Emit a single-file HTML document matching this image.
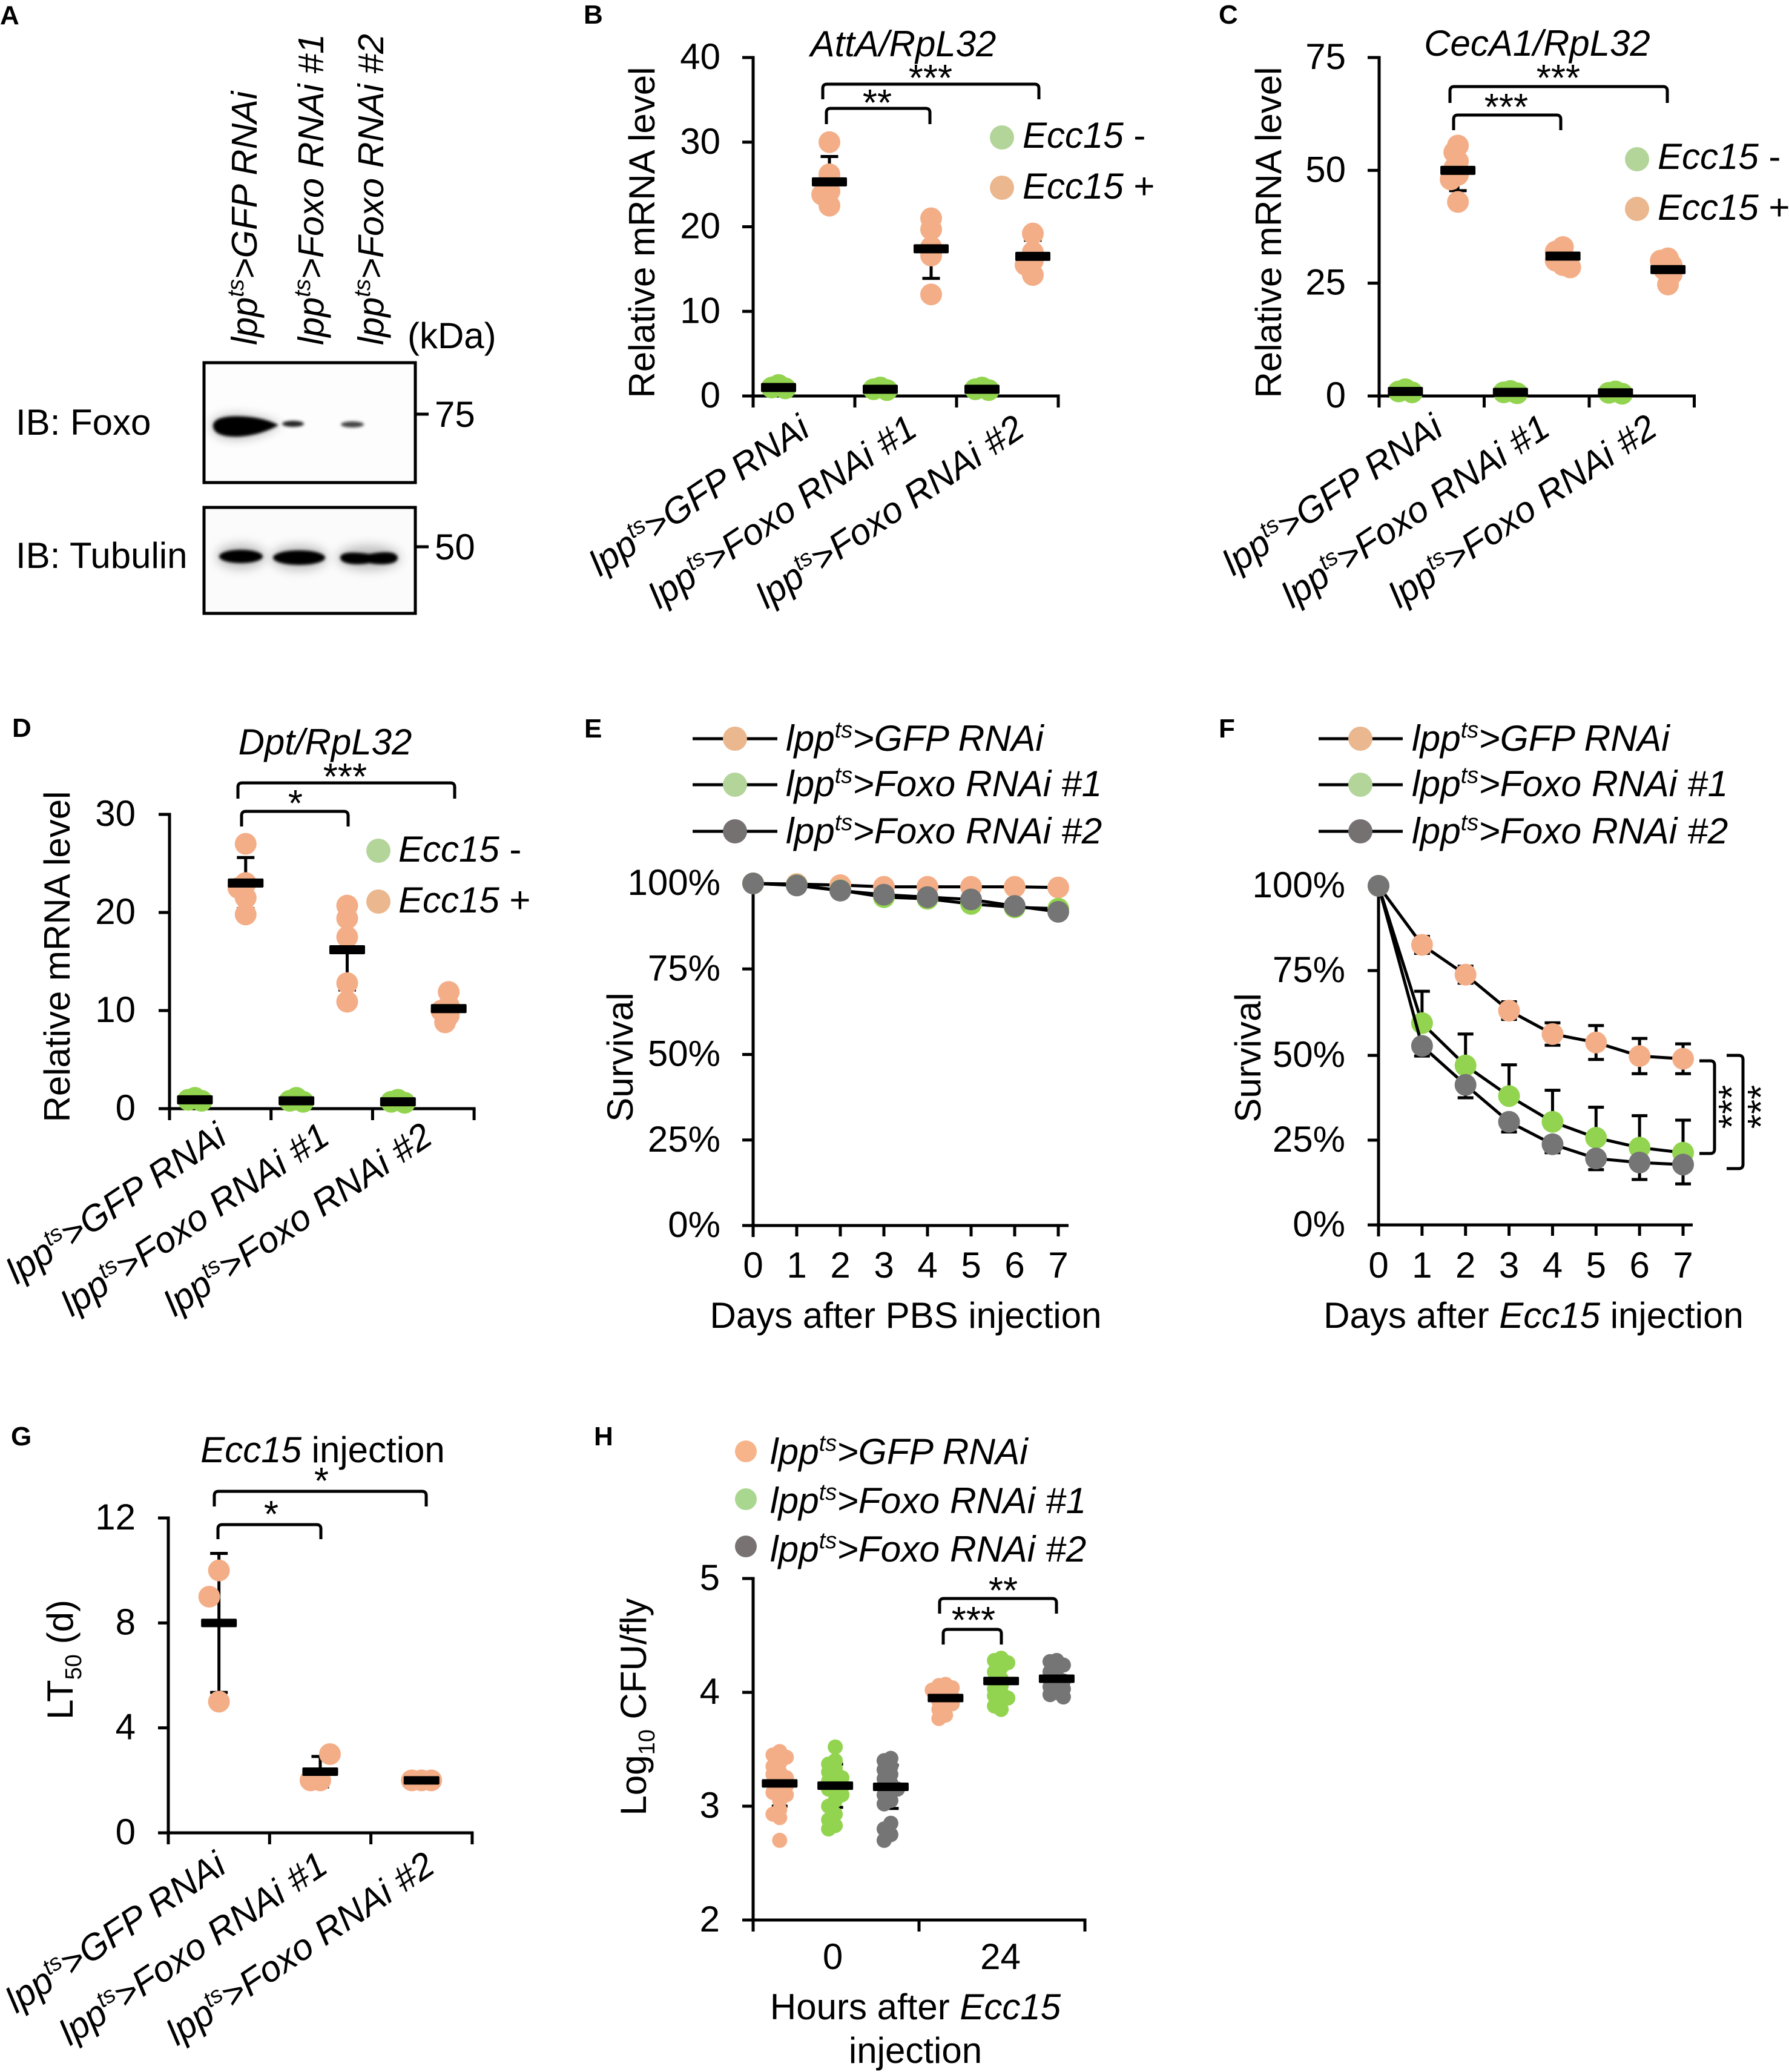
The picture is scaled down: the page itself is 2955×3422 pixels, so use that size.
<!DOCTYPE html>
<html lang="en">
<head>
<meta charset="utf-8">
<title>Foxo RNAi immune response figure</title>
<style>
html,body{margin:0;padding:0;background:#fff;}
svg{display:block;font-family:"Liberation Sans",Arial,sans-serif;fill:#000;}
.pl{font-weight:bold;font-size:44px;}
.t{font-size:60px;}
.i{font-style:italic;}
</style>
</head>
<body>
<svg id="figure" xmlns="http://www.w3.org/2000/svg" width="2955" height="3422" viewBox="0 0 2955 3422">
<defs>
<filter id="b2" x="-30%" y="-80%" width="160%" height="260%"><feGaussianBlur stdDeviation="2.5"/></filter>
<filter id="b8" x="-40%" y="-150%" width="180%" height="400%"><feGaussianBlur stdDeviation="9"/></filter>
</defs>
<rect width="2955" height="3422" fill="#fff"/>

<!-- Panel labels -->
<text class="pl" x="0" y="40">A</text>
<text class="pl" x="964" y="39">B</text>
<text class="pl" x="2013" y="39">C</text>
<text class="pl" x="20" y="1217">D</text>
<text class="pl" x="965" y="1218">E</text>
<text class="pl" x="2013" y="1218">F</text>
<text class="pl" x="18" y="2387">G</text>
<text class="pl" x="981" y="2387">H</text>

<!-- Panel A -->
<g id="panel-a">
  <text class="t i" transform="translate(424,570) rotate(-90)" style="font-size:59.5px">lpp<tspan dy="-22" font-size="38">ts</tspan><tspan dy="22">&gt;GFP RNAi</tspan></text>
  <text class="t i" transform="translate(534,570) rotate(-90)" style="font-size:59.5px">lpp<tspan dy="-22" font-size="38">ts</tspan><tspan dy="22">&gt;Foxo RNAi #1</tspan></text>
  <text class="t i" transform="translate(633,570) rotate(-90)" style="font-size:59.5px">lpp<tspan dy="-22" font-size="38">ts</tspan><tspan dy="22">&gt;Foxo RNAi #2</tspan></text>
  <text class="t" x="673" y="575">(kDa)</text>
  <text class="t" x="26" y="718">IB: Foxo</text>
  <text class="t" x="26" y="938">IB: Tubulin</text>
  <g>
    <rect x="337" y="599" width="349" height="198" fill="#fdfdfd"/>
    <path d="M350 703C350 688 380 682 415 688C440 692 455 698 462 702C450 710 425 722 395 724C365 725 350 716 350 703Z" fill="#000" opacity=".3" filter="url(#b8)"/>
    <path d="M352 703C352 689 380 685 415 689C438 692 452 698 460 702C448 709 425 719 395 721C366 722 352 715 352 703Z" fill="#000" filter="url(#b2)"/>
    <ellipse cx="484" cy="700" rx="18" ry="5" fill="#222" filter="url(#b2)"/>
    <ellipse cx="582" cy="701" rx="19" ry="5" fill="#444" filter="url(#b2)"/>
    <rect x="337" y="599" width="349" height="198" fill="none" stroke="#000" stroke-width="5"/>
  </g>
  <g>
    <rect x="337" y="838" width="349" height="175" fill="#fbfbfb"/>
    <ellipse cx="398" cy="919" rx="40" ry="20" fill="#000" opacity=".25" filter="url(#b8)"/>
    <ellipse cx="494" cy="921" rx="46" ry="20" fill="#000" opacity=".25" filter="url(#b8)"/>
    <ellipse cx="609" cy="921" rx="52" ry="20" fill="#000" opacity=".25" filter="url(#b8)"/>
    <ellipse cx="398" cy="919" rx="36" ry="11" fill="#000" filter="url(#b2)"/>
    <ellipse cx="494" cy="921" rx="43" ry="12" fill="#000" filter="url(#b2)"/>
    <path d="M562 921C562 910 590 912 610 915C625 912 655 908 657 921C657 934 625 933 610 930C590 934 562 932 562 921Z" fill="#000" filter="url(#b2)"/>
    <rect x="337" y="838" width="349" height="175" fill="none" stroke="#000" stroke-width="5"/>
  </g>
  <line x1="686" x2="708" y1="684" y2="684" stroke="#000" stroke-width="5"/>
  <line x1="686" x2="708" y1="903" y2="903" stroke="#000" stroke-width="5"/>
  <text class="t" x="718" y="705">75</text>
  <text class="t" x="718" y="924">50</text>
</g>

<!-- Titles and axis titles -->
<text class="t i" x="1492" y="93" text-anchor="middle">AttA/RpL32</text>
<text class="t" transform="translate(1081,384) rotate(-90)" text-anchor="middle">Relative mRNA level</text>
<text class="t i" x="2539" y="92" text-anchor="middle">CecA1/RpL32</text>
<text class="t" transform="translate(2116,384) rotate(-90)" text-anchor="middle">Relative mRNA level</text>
<text class="t i" x="537" y="1246" text-anchor="middle">Dpt/RpL32</text>
<text class="t" transform="translate(115,1580) rotate(-90)" text-anchor="middle">Relative mRNA level</text>
<text class="t" transform="translate(1045,1746) rotate(-90)" text-anchor="middle">Survival</text>
<text class="t" x="1496" y="2193" text-anchor="middle">Days after PBS injection</text>
<text class="t" transform="translate(2082,1747) rotate(-90)" text-anchor="middle">Survival</text>
<text class="t" x="2533" y="2193" text-anchor="middle">Days after <tspan class="i">Ecc15</tspan> injection</text>
<text class="t" x="533" y="2415" text-anchor="middle"><tspan class="i">Ecc15</tspan> injection</text>
<text class="t" transform="translate(120,2741) rotate(-90)" text-anchor="middle">LT<tspan dy="14" font-size="38">50</tspan><tspan dy="-14"> (d)</tspan></text>
<text class="t" transform="translate(1067,2819) rotate(-90)" text-anchor="middle">Log<tspan dy="14" font-size="38">10</tspan><tspan dy="-14"> CFU/fly</tspan></text>
<text class="t" x="1512" y="3335" text-anchor="middle">Hours after <tspan class="i">Ecc15</tspan></text>
<text class="t" x="1512" y="3407" text-anchor="middle">injection</text>

<!-- Legends B, C, D -->
<g>
  <circle cx="1655" cy="227" r="20" fill="#b3d59a"/><text class="t" x="1689" y="244"><tspan class="i">Ecc15</tspan> -</text>
  <circle cx="1655" cy="310" r="20" fill="#ebb78e"/><text class="t" x="1689" y="328"><tspan class="i">Ecc15</tspan> +</text>
</g>
<g>
  <circle cx="2704" cy="263" r="20" fill="#b3d59a"/><text class="t" x="2738" y="279"><tspan class="i">Ecc15</tspan> -</text>
  <circle cx="2704" cy="345" r="20" fill="#ebb78e"/><text class="t" x="2738" y="363"><tspan class="i">Ecc15</tspan> +</text>
</g>
<g>
  <circle cx="625" cy="1405" r="20" fill="#b3d59a"/><text class="t" x="658" y="1423"><tspan class="i">Ecc15</tspan> -</text>
  <circle cx="625" cy="1489" r="20" fill="#ebb78e"/><text class="t" x="658" y="1507"><tspan class="i">Ecc15</tspan> +</text>
</g>

<!-- Legends E, F -->
<g stroke-width="0">
  <line x1="1144" x2="1284" y1="1220" y2="1220" stroke="#000" stroke-width="5"/><circle cx="1214" cy="1220" r="20" fill="#ebb78e"/>
  <text class="t i" x="1298" y="1240" style="font-size:60.5px">lpp<tspan dy="-22" font-size="38">ts</tspan><tspan dy="22">&gt;GFP RNAi</tspan></text>
  <line x1="1144" x2="1284" y1="1296" y2="1296" stroke="#000" stroke-width="5"/><circle cx="1214" cy="1296" r="20" fill="#b3d59a"/>
  <text class="t i" x="1298" y="1315" style="font-size:60.5px">lpp<tspan dy="-22" font-size="38">ts</tspan><tspan dy="22">&gt;Foxo RNAi #1</tspan></text>
  <line x1="1144" x2="1284" y1="1373" y2="1373" stroke="#000" stroke-width="5"/><circle cx="1214" cy="1373" r="20" fill="#767171"/>
  <text class="t i" x="1298" y="1393" style="font-size:60.5px">lpp<tspan dy="-22" font-size="38">ts</tspan><tspan dy="22">&gt;Foxo RNAi #2</tspan></text>
</g>
<g>
  <line x1="2178" x2="2317" y1="1220" y2="1220" stroke="#000" stroke-width="5"/><circle cx="2247" cy="1220" r="20" fill="#ebb78e"/>
  <text class="t i" x="2332" y="1240" style="font-size:60.5px">lpp<tspan dy="-22" font-size="38">ts</tspan><tspan dy="22">&gt;GFP RNAi</tspan></text>
  <line x1="2178" x2="2317" y1="1296" y2="1296" stroke="#000" stroke-width="5"/><circle cx="2247" cy="1296" r="20" fill="#b3d59a"/>
  <text class="t i" x="2332" y="1315" style="font-size:60.5px">lpp<tspan dy="-22" font-size="38">ts</tspan><tspan dy="22">&gt;Foxo RNAi #1</tspan></text>
  <line x1="2178" x2="2317" y1="1373" y2="1373" stroke="#000" stroke-width="5"/><circle cx="2247" cy="1373" r="20" fill="#767171"/>
  <text class="t i" x="2332" y="1393" style="font-size:60.5px">lpp<tspan dy="-22" font-size="38">ts</tspan><tspan dy="22">&gt;Foxo RNAi #2</tspan></text>
</g>
<!-- Legend H -->
<g>
  <circle cx="1232" cy="2397" r="18" fill="#f7b48a"/>
  <text class="t i" x="1272" y="2418" style="font-size:60.5px">lpp<tspan dy="-22" font-size="38">ts</tspan><tspan dy="22">&gt;GFP RNAi</tspan></text>
  <circle cx="1232" cy="2476" r="18" fill="#aad78f"/>
  <text class="t i" x="1272" y="2499" style="font-size:60.5px">lpp<tspan dy="-22" font-size="38">ts</tspan><tspan dy="22">&gt;Foxo RNAi #1</tspan></text>
  <circle cx="1232" cy="2554" r="18" fill="#787272"/>
  <text class="t i" x="1272" y="2579" style="font-size:60.5px">lpp<tspan dy="-22" font-size="38">ts</tspan><tspan dy="22">&gt;Foxo RNAi #2</tspan></text>
</g>
<g id="charts"></g>
</svg>

<script>
const categories = ['GFP RNAi', 'Foxo RNAi #1', 'Foxo RNAi #2'];

// Panel B
const bTicks = [0, 10, 20, 30, 40];
const bMinus = [[1.3, 1.0, 0.9], [1.0, 0.8, 0.7], [1.0, 0.8, 0.7]];
const bMinusMeans = [1.0, 0.8, 0.8];
const bPlus = [[30, 26.2, 24.2, 23.8, 22.5], [21, 19.7, 17.6, 16.6, 12], [19.2, 17, 16, 15.5, 14.3]];
const bPlusMeans = [25.3, 17.4, 16.5];
const bPlusErr = [3, 3.5, 1.9];

// Panel C
const cTicks = [0, 25, 50, 75];
const cMinus = [[1.5, 1.0, 0.8], [1.1, 0.8, 0.6], [1.0, 0.7, 0.5]];
const cMinusMeans = [1, 0.8, 0.7];
const cPlus = [[55.5, 54, 52, 50.5, 49, 48, 43], [33, 32, 31, 30, 29, 28.5], [30.5, 30, 29, 28, 27, 24.7]];
const cPlusMeans = [50, 31, 28];
const cPlusErr = [4.5, 1.5, 1.9];

// Panel D
const dTicks = [0, 10, 20, 30];
const dMinus = [[1.1, 0.9, 0.8], [1.1, 0.8, 0.7], [0.9, 0.7, 0.6]];
const dMinusMeans = [0.9, 0.8, 0.7];
const dPlus = [[27, 23, 22.5, 21.5, 19.8], [20.7, 19.4, 17.5, 12.8, 10.9], [11.9, 10.5, 10, 9.5, 8.8]];
const dPlusMeans = [23, 16.2, 10.2];
const dPlusErr = [2.6, 4.1, 1.2];

// Panels E and F
const days = [0, 1, 2, 3, 4, 5, 6, 7];
const survivalTicks = [0, 25, 50, 75, 100];
const survivalTickLabels = ['0%', '25%', '50%', '75%', '100%'];
const eGfp = [100, 99.8, 99.5, 99, 99, 99, 99, 98.8];
const eFoxo1 = [100, 99.5, 98, 96, 95.5, 94, 93, 92.6];
const eFoxo2 = [100, 99.4, 97.9, 96.7, 96, 95.3, 93.4, 91.7];
const fGfp = [100, 82.6, 73.8, 63.2, 56.3, 53.8, 49.8, 49];
const fGfpErr = [0, 2.5, 2.5, 2.6, 3.3, 5, 5.2, 4.4];
const fFoxo1 = [100, 59.5, 47, 38, 30.4, 25.7, 22.8, 21.3];
const fFoxo1Err = [0, 9.4, 9.3, 9.2, 9.3, 9, 9.4, 9.6];
const fFoxo2 = [100, 52.8, 41.3, 30.4, 23.8, 19.6, 18.4, 17.8];
const fFoxo2Err = [0, 3, 3.8, 3, 2.5, 3.3, 5, 5.7];

// Panel G
const gTicks = [0, 4, 8, 12];
const gValues = [[10, 9, 5], [2, 2, 3], [2, 2, 2]];
const gMeans = [8, 2.33, 2];
const gErr = [2.65, 0.58, 0];

// Panel H
const hTicks = [2, 3, 4, 5];
const hTimes = ['0', '24'];
const hGfp0 = [3.48, 3.45, 3.43, 3.38, 3.35, 3.3, 3.28, 3.25, 3.22, 3.2, 3.18, 3.15, 3.12, 3.1, 3.05, 2.97, 2.93, 2.9, 2.7];
const hFoxo10 = [3.52, 3.4, 3.37, 3.33, 3.3, 3.27, 3.25, 3.22, 3.2, 3.17, 3.15, 3.12, 3.1, 3.05, 3, 2.93, 2.88, 2.83, 2.8];
const hFoxo20 = [3.42, 3.4, 3.35, 3.32, 3.28, 3.24, 3.2, 3.18, 3.15, 3.12, 3.1, 3.05, 3.02, 2.85, 2.8, 2.75, 2.7];
const hGfp24 = [4.07, 4.06, 4.04, 4.02, 4, 3.98, 3.96, 3.94, 3.92, 3.9, 3.88, 3.85, 3.8, 3.77];
const hFoxo124 = [4.3, 4.28, 4.26, 4.22, 4.18, 4.12, 4.1, 4.06, 4.03, 4, 3.97, 3.95, 3.92, 3.88, 3.85];
const hFoxo224 = [4.28, 4.27, 4.24, 4.2, 4.18, 4.14, 4.12, 4.1, 4.07, 4.05, 4.03, 4, 3.98, 3.96];
const hMeans = [3.2, 3.18, 3.17, 3.95, 4.1, 4.12];
const hErr = [0.2, 0.19, 0.19, 0.08, 0.13, 0.09];

const NS = 'http://www.w3.org/2000/svg';
const ORANGE = '#f4ae87', GREEN = '#92d44f', GRAY = '#757575', SW = 5;
const root = document.getElementById('charts');

function mk(tag, parent, name, attrs) {
  const el = document.createElementNS(NS, tag);
  
  
  for (const k in attrs) el.setAttribute(k, attrs[k]);
  parent.appendChild(el);
  return el;
}
function linear(d0, d1, r0, r1) { return v => r0 + (v - d0) * (r1 - r0) / (d1 - d0); }
function rule(p, name, x1, y1, x2, y2) {
  return mk('line', p, name, {x1: x1, y1: y1, x2: x2, y2: y2, stroke: '#000', 'stroke-width': SW});
}
function label(p, name, x, y, anchor, str) {
  const t = mk('text', p, name, {x: x, y: y, 'text-anchor': anchor, 'font-size': 60});
  t.textContent = str;
  return t;
}
function yAxis(p, ax, y, ticks, tickLabels) {
  rule(p, 'y-axis-line', ax.x0, y(ticks[ticks.length - 1]) - SW / 2, ax.x0, ax.yBase + 19);
  ticks.forEach((v, i) => {
    rule(p, 'y-tick', ax.left, y(v), ax.x0, y(v));
    label(p, 'y-tick-label', ax.labelRight, y(v) + 19, 'end', tickLabels ? tickLabels[i] : String(v));
  });
}
function swarm(vals, y, cx, minD, step, wy) {
  const w = wy === undefined ? 1 : wy;
  const placed = [];
  vals.forEach(v => {
    const py = y(v);
    for (let k = 0; k < 30; k++) {
      const off = (k % 2 ? -1 : 1) * Math.ceil(k / 2) * step;
      if (placed.every(q => Math.hypot(q.x - (cx + off), (q.y - py) * w) >= minD)) {
        placed.push({x: cx + off, y: py});
        break;
      }
    }
  });
  return placed;
}
function errorBar(p, x, yHi, yLo, capW) {
  rule(p, 'error-stem', x, yHi, x, yLo);
  rule(p, 'error-cap', x - capW / 2, yHi, x + capW / 2, yHi);
  rule(p, 'error-cap', x - capW / 2, yLo, x + capW / 2, yLo);
}
function meanBar(p, x, yv, w, h) {
  mk('rect', p, 'mean-bar', {x: x - w / 2, y: yv - h / 2, width: w, height: h, rx: 2, fill: '#000'});
}
function dots(p, name, pts, r, fill) {
  pts.forEach(q => {
    mk('circle', p, name, {cx: q.x, cy: q.y, r: r, fill: fill});
  });
}
function categoryLabel(p, x, y, str) {
  const t = mk('text', p, 'x-category-label', {transform: 'translate(' + x + ',' + y + ') rotate(-34)', 'text-anchor': 'end', 'font-size': 60, 'font-style': 'italic'});
  const a = document.createElementNS(NS, 'tspan');
  a.textContent = 'lpp';
  t.appendChild(a);
  const b = document.createElementNS(NS, 'tspan');
  b.setAttribute('dy', '-22');
  b.setAttribute('font-size', '38');
  b.textContent = 'ts';
  t.appendChild(b);
  const c = document.createElementNS(NS, 'tspan');
  c.setAttribute('dy', '22');
  c.textContent = '>' + str;
  t.appendChild(c);
}
function bandAxis(p, ax, n) {
  rule(p, 'x-axis-line', ax.left, ax.yBase, ax.x0 + ax.band * n + SW / 2, ax.yBase);
  for (let i = 0; i <= n; i++) rule(p, 'x-tick', ax.x0 + ax.band * i, ax.yBase, ax.x0 + ax.band * i, ax.yBase + 19);
}
function annot(p, x1, x2, yTop, yDown, cx, bottom, stars) {
  const r = 7;
  mk('path', p, 'significance-bracket', {d: 'M' + x1 + ' ' + yDown + 'V' + (yTop + r) + 'Q' + x1 + ' ' + yTop + ' ' + (x1 + r) + ' ' + yTop + 'H' + (x2 - r) + 'Q' + x2 + ' ' + yTop + ' ' + x2 + ' ' + (yTop + r) + 'V' + yDown, fill: 'none', stroke: '#000', 'stroke-width': SW});
  const t = mk('text', p, 'significance-stars', {x: cx, y: bottom + 18, 'text-anchor': 'middle', 'font-size': 62});
  t.textContent = stars;
}

function expressionPanel(id, ax, ticks, minus, minusMeans, plus, plusMeans, plusErr) {
  const g = mk('g', root, id, {});
  const y = linear(ticks[0], ticks[ticks.length - 1], ax.yBase, ax.yTop);
  yAxis(g, ax, y, ticks);
  bandAxis(g, ax, categories.length);
  categories.forEach((c, i) => {
    const xm = ax.x0 + ax.band * (i + 0.25), xp = ax.x0 + ax.band * (i + 0.75);
    dots(g, 'dot-ecc15-minus', swarm(minus[i], y, xm, 10, 11), 18, GREEN);
    meanBar(g, xm, y(minusMeans[i]), ax.barW, 15);
    errorBar(g, xp, y(plusMeans[i] + plusErr[i]), y(plusMeans[i] - plusErr[i]), 29);
    dots(g, 'dot-ecc15-plus', swarm(plus[i], y, xp, 12, 6), 18, ORANGE);
    meanBar(g, xp, y(plusMeans[i]), ax.barW, 15);
    categoryLabel(g, ax.lx + ax.lstep * i, ax.ly, c);
  });
  return g;
}

const bG = expressionPanel('panel-b-atta', {x0: 1244, left: 1226, labelRight: 1190, yBase: 654, yTop: 95, band: 168, barW: 58, lx: 1341, lstep: 177.5, ly: 717}, bTicks, bMinus, bMinusMeans, bPlus, bPlusMeans, bPlusErr);
annot(bG, 1359, 1716, 139, 164, 1537, 132, '***');
annot(bG, 1365, 1536, 179, 205, 1449, 173, '**');

const cG = expressionPanel('panel-c-ceca1', {x0: 2278, left: 2259, labelRight: 2223, yBase: 654, yTop: 95, band: 173.5, barW: 58, lx: 2387, lstep: 177, ly: 716}, cTicks, cMinus, cMinusMeans, cPlus, cPlusMeans, cPlusErr);
annot(cG, 2395, 2754, 143, 170, 2574, 132, '***');
annot(cG, 2401, 2578, 190, 215, 2488, 180, '***');

const dG = expressionPanel('panel-d-dpt', {x0: 280, left: 262, labelRight: 224, yBase: 1831, yTop: 1345, band: 167.7, barW: 59, lx: 378, lstep: 170, ly: 1886}, dTicks, dMinus, dMinusMeans, dPlus, dPlusMeans, dPlusErr);
annot(dG, 393, 751, 1293, 1319, 570, 1286, '***');
annot(dG, 399, 575, 1340, 1365, 488, 1330, '*');

function survivalPanel(id, ax, series) {
  const g = mk('g', root, id, {});
  const y = linear(0, 100, ax.yBase, ax.yTop);
  const x = linear(0, 7, ax.x0, ax.x7);
  yAxis(g, ax, y, survivalTicks, survivalTickLabels);
  rule(g, 'x-axis-line', ax.left, ax.yBase, ax.right, ax.yBase);
  days.forEach(d => {
    rule(g, 'x-tick', x(d), ax.yBase, x(d), ax.yBase + 18);
    label(g, 'x-tick-label', x(d), 2110, 'middle', String(d));
  });
  series.forEach(s => {
    if (s.err) days.forEach((d, i) => {
      if (!s.err[i]) return;
      const v = s.vals[i], hi = s.up ? y(v + s.err[i]) : y(v), lo = s.down ? y(v - s.err[i]) : y(v);
      rule(g, 'error-stem', x(d), hi, x(d), lo);
      if (s.up) rule(g, 'error-cap', x(d) - 13, hi, x(d) + 13, hi);
      if (s.down) rule(g, 'error-cap', x(d) - 13, lo, x(d) + 13, lo);
    });
  });
  series.forEach(s => {
    mk('polyline', g, 'survival-line-' + s.name, {points: s.vals.map((v, i) => x(days[i]) + ',' + y(v)).join(' '), fill: 'none', stroke: '#000', 'stroke-width': SW});
    s.vals.forEach((v, i) => {
      mk('circle', g, 'survival-point-' + s.name, {cx: x(days[i]), cy: y(v), r: 18, fill: s.color});
    });
  });
  return g;
}

survivalPanel('panel-e-survival-pbs', {x0: 1244, x7: 1748, left: 1226, right: 1765, labelRight: 1190, yBase: 2024, yTop: 1459}, [
  {name: 'gfp', vals: eGfp, color: ORANGE},
  {name: 'foxo-1', vals: eFoxo1, color: GREEN},
  {name: 'foxo-2', vals: eFoxo2, color: GRAY}
]);
const fG = survivalPanel('panel-f-survival-ecc15', {x0: 2277, x7: 2780, left: 2259, right: 2796, labelRight: 2222, yBase: 2023, yTop: 1463}, [
  {name: 'gfp', vals: fGfp, color: ORANGE, err: fGfpErr, up: true, down: true},
  {name: 'foxo-1', vals: fFoxo1, color: GREEN, err: fFoxo1Err, up: true},
  {name: 'foxo-2', vals: fFoxo2, color: GRAY, err: fFoxo2Err, down: true}
]);
function sideBracket(p, x1, x2, y1, y2, starX, starY) {
  const r = 7;
  mk('path', p, 'significance-bracket', {d: 'M' + x1 + ' ' + y1 + 'H' + (x2 - r) + 'Q' + x2 + ' ' + y1 + ' ' + x2 + ' ' + (y1 + r) + 'V' + (y2 - r) + 'Q' + x2 + ' ' + y2 + ' ' + (x2 - r) + ' ' + y2 + 'H' + x1, fill: 'none', stroke: '#000', 'stroke-width': SW});
  const t = mk('text', p, 'significance-stars', {transform: 'translate(' + (starX + 31) + ',' + starY + ') rotate(-90)', 'text-anchor': 'middle', 'font-size': 62});
  t.textContent = '***';
}
sideBracket(fG, 2807, 2832, 1752, 1905, 2851, 1828);
sideBracket(fG, 2852, 2879, 1743, 1930, 2899, 1828);

// Panel G
(function () {
  const ax = {x0: 278, left: 261, labelRight: 224, yBase: 3027, yTop: 2507, band: 167.3};
  const g = mk('g', root, 'panel-g-lt50', {});
  const y = linear(gTicks[0], gTicks[gTicks.length - 1], ax.yBase, ax.yTop);
  yAxis(g, ax, y, gTicks);
  bandAxis(g, ax, categories.length);
  const ends = [377, 545, 722];
  categories.forEach((c, i) => {
    const x = ax.x0 + ax.band * (i + 0.5);
    if (gErr[i]) errorBar(g, x, y(gMeans[i] + gErr[i]), y(gMeans[i] - gErr[i]), 29);
    dots(g, 'dot-lt50', swarm(gValues[i], y, x, 16, 16, 0.35), 18, ORANGE);
    meanBar(g, x, y(gMeans[i]), 59, 14);
    categoryLabel(g, ends[i], 3090, c);
  });
  annot(g, 354, 704, 2463, 2488, 531, 2449, '*');
  annot(g, 360, 530, 2518, 2542, 448, 2504, '*');
})();

// Panel H
(function () {
  const ax = {x0: 1244, left: 1226, labelRight: 1189, yBase: 3171, yTop: 2607, band: 274};
  const g = mk('g', root, 'panel-h-cfu', {});
  const y = linear(hTicks[0], hTicks[hTicks.length - 1], ax.yBase, ax.yTop);
  yAxis(g, ax, y, hTicks);
  bandAxis(g, ax, hTimes.length);
  const groups = [hGfp0, hFoxo10, hFoxo20, hGfp24, hFoxo124, hFoxo224];
  const colors = [ORANGE, GREEN, GRAY];
  groups.forEach((vals, i) => {
    const t = Math.floor(i / 3), s = i % 3;
    const x = ax.x0 + ax.band * (t + 0.16 + 0.335 * s);
    errorBar(g, x, y(hMeans[i] + hErr[i]), y(hMeans[i] - hErr[i]), 26);
    dots(g, 'dot-cfu', swarm(vals, y, x, 11, 5.5), 12.5, colors[s]);
    meanBar(g, x, y(hMeans[i]), 59, 14);
  });
  hTimes.forEach((t, i) => {
    label(g, 'x-tick-label', ax.x0 + ax.band * (i + 0.48) + (i ? 3 : 0), 3252, 'middle', t);
  });
  annot(g, 1552, 1745, 2640, 2665, 1657, 2630, '**');
  annot(g, 1558, 1654, 2691, 2716, 1608, 2679, '***');
})();
</script>
</body>
</html>
